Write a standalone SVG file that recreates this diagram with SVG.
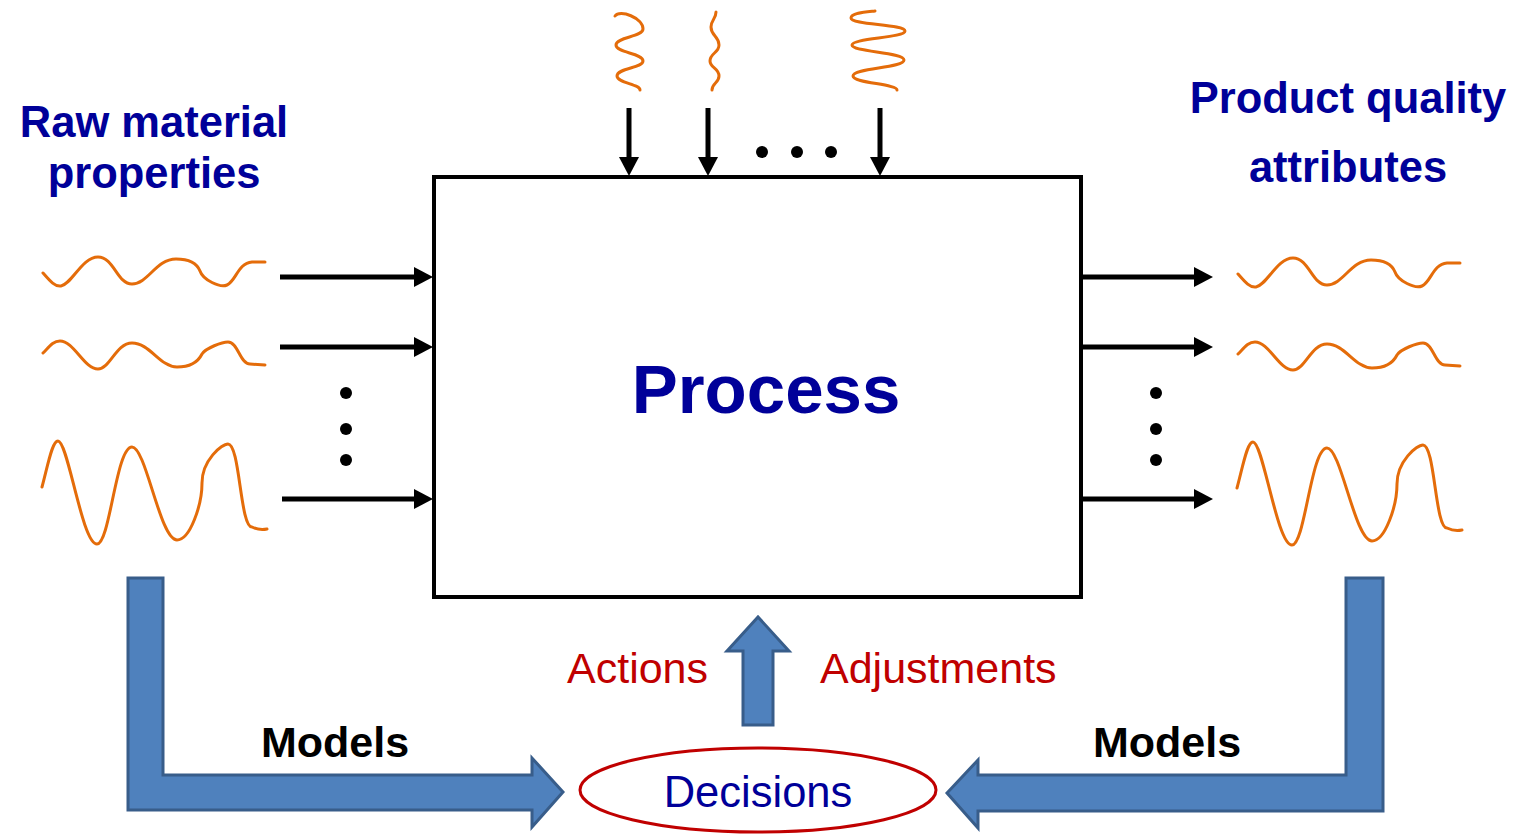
<svg xmlns="http://www.w3.org/2000/svg" xmlns:xlink="http://www.w3.org/1999/xlink" width="1522" height="835" viewBox="0 0 1522 835">
  <style>
    .wave { fill: none; stroke: #E46C0A; stroke-width: 3; stroke-linecap: round; stroke-linejoin: round; }
    .flow { stroke: #000; stroke-width: 5; fill: none; }
    .dot { fill: #000; }
    .block { fill: #4F81BD; stroke: #385D8A; stroke-width: 3; stroke-linejoin: miter; }
    .head { font-family: "Liberation Sans", Arial, sans-serif; font-weight: bold; font-size: 43.5px; fill: #000099; text-anchor: middle; }
    .models { font-family: "Liberation Sans", Arial, sans-serif; font-weight: bold; font-size: 43px; fill: #000; text-anchor: middle; }
    .red { font-family: "Liberation Sans", Arial, sans-serif; font-size: 43px; fill: #C00000; }
  </style>
  <defs>
    <marker id="arrow" markerUnits="userSpaceOnUse" markerWidth="19" markerHeight="20" viewBox="0 0 19 20" refX="0" refY="10" orient="auto">
      <path d="M0,0 L19,10 L0,20 Z" fill="#000"/>
    </marker>
    <!-- signal traces, drawn once and reused on both sides -->
    <path id="sig1" class="wave" d="M43,273 C50,281 55,287 61,286 C72,284 82,257 98,257 C114,257 117,284 132,284 C148,284 156,259 176,259 C192,259 198,266 200,271 C203,280 220,288 227,285 C236,281 238,263 252,262 L265,262"/>
    <path id="sig2" class="wave" d="M43,353 C49,347 53,341 60,341 C74,341 84,369 98,369 C110,369 116,343 132,343 C150,343 160,367 177,367 C192,367 199,360 202,354 C206,348 222,342 228,342 C238,342 240,364 250,364 L265,365"/>
    <path id="sig3" class="wave" d="M42,487 C48,465 52,441 58,441 C68,441 82,544 97,544 C110,544 116,447 132,447 C146,447 160,540 177,540 C190,540 202,505 202,483 C202,460 222,444 228,444 C240,444 240,527 252,527 C258,530 262,530 267,529"/>
  </defs>

  <!-- input signals (left) -->
  <g id="inputs">
    <use xlink:href="#sig1"/>
    <use xlink:href="#sig2"/>
    <use xlink:href="#sig3"/>
  </g>

  <!-- output signals (right) -->
  <g id="outputs">
    <use xlink:href="#sig1" transform="translate(1195,1)"/>
    <use xlink:href="#sig2" transform="translate(1195,1)"/>
    <use xlink:href="#sig3" transform="translate(1195,1)"/>
  </g>

  <!-- disturbance signals (top) -->
  <g id="disturbances">
    <path class="wave" d="M615,16 C620,9 643,18 643,29 C643,37 616,37 616,45 C616,53 643,53 643,61 C643,68 617,68 617,76 C617,83 640,84 640,90"/>
    <path class="wave" d="M716,12 C716,19 711,20 711,27 C711,36 719,36 719,45 C719,53 710,53 710,61 C710,68 719,68 719,76 C719,83 712,83 712,90"/>
    <path class="wave" d="M875,11 C866,12 851,13 851,18 C851,25 905,24 905,31 C905,38 852,38 852,45 C852,52 904,52 904,60 C904,68 853,68 853,76 C853,83 897,84 897,90"/>
  </g>

  <!-- process block -->
  <g id="process">
    <rect x="434" y="177" width="647" height="420" fill="#fff" stroke="#000" stroke-width="4"/>
    <text x="766" y="413" font-family="Liberation Sans, Arial, sans-serif" font-weight="bold" font-size="69" fill="#000099" text-anchor="middle">Process</text>
  </g>

  <!-- headings -->
  <g id="raw-material">
    <text class="head" x="154" y="137">Raw material</text>
    <text class="head" x="154" y="188">properties</text>
  </g>
  <g id="product-quality">
    <text class="head" x="1348" y="113">Product quality</text>
    <text class="head" x="1348" y="182">attributes</text>
  </g>

  <!-- decision node -->
  <g id="decisions">
    <ellipse cx="758" cy="790" rx="178" ry="42" fill="#fff" stroke="#C00000" stroke-width="3"/>
    <text x="758" y="807" font-family="Liberation Sans, Arial, sans-serif" font-size="43.5" fill="#000099" text-anchor="middle">Decisions</text>
  </g>

  <!-- connectors -->
  <g id="connectors">
    <!-- inputs into the process -->
    <line class="flow" x1="280" y1="277" x2="414" y2="277" marker-end="url(#arrow)"/>
    <line class="flow" x1="280" y1="347" x2="414" y2="347" marker-end="url(#arrow)"/>
    <line class="flow" x1="282" y1="499" x2="414" y2="499" marker-end="url(#arrow)"/>
    <!-- outputs from the process -->
    <line class="flow" x1="1081" y1="277" x2="1194" y2="277" marker-end="url(#arrow)"/>
    <line class="flow" x1="1081" y1="347" x2="1194" y2="347" marker-end="url(#arrow)"/>
    <line class="flow" x1="1081" y1="499" x2="1194" y2="499" marker-end="url(#arrow)"/>
    <!-- disturbances -->
    <line class="flow" x1="629" y1="108" x2="629" y2="157" marker-end="url(#arrow)"/>
    <line class="flow" x1="708" y1="108" x2="708" y2="157" marker-end="url(#arrow)"/>
    <line class="flow" x1="880" y1="108" x2="880" y2="157" marker-end="url(#arrow)"/>

    <!-- ellipsis dots -->
    <circle class="dot" cx="346" cy="393" r="6"/>
    <circle class="dot" cx="346" cy="429" r="6"/>
    <circle class="dot" cx="346" cy="460" r="6"/>
    <circle class="dot" cx="1156" cy="393" r="6"/>
    <circle class="dot" cx="1156" cy="429" r="6"/>
    <circle class="dot" cx="1156" cy="460" r="6"/>
    <circle class="dot" cx="762" cy="152" r="6"/>
    <circle class="dot" cx="797" cy="152" r="6"/>
    <circle class="dot" cx="831" cy="152" r="6"/>

    <!-- model block arrows -->
    <path class="block" d="M128,578 L163,578 L163,775 L532,775 L532,758 L563,792 L532,827 L532,810 L128,810 Z"/>
    <path class="block" d="M1383,578 L1346,578 L1346,775 L978,775 L978,760 L947,793 L978,828 L978,811 L1383,811 Z"/>
    <!-- decisions back to the process -->
    <path class="block" d="M743,725 L773,725 L773,651 L789,651 L758,617 L727,651 L743,651 Z"/>
  </g>

  <!-- connector labels -->
  <g id="labels">
    <text class="models" x="335" y="757">Models</text>
    <text class="models" x="1167" y="757">Models</text>
    <text class="red" x="567" y="683">Actions</text>
    <text class="red" x="820" y="683">Adjustments</text>
  </g>
</svg>
